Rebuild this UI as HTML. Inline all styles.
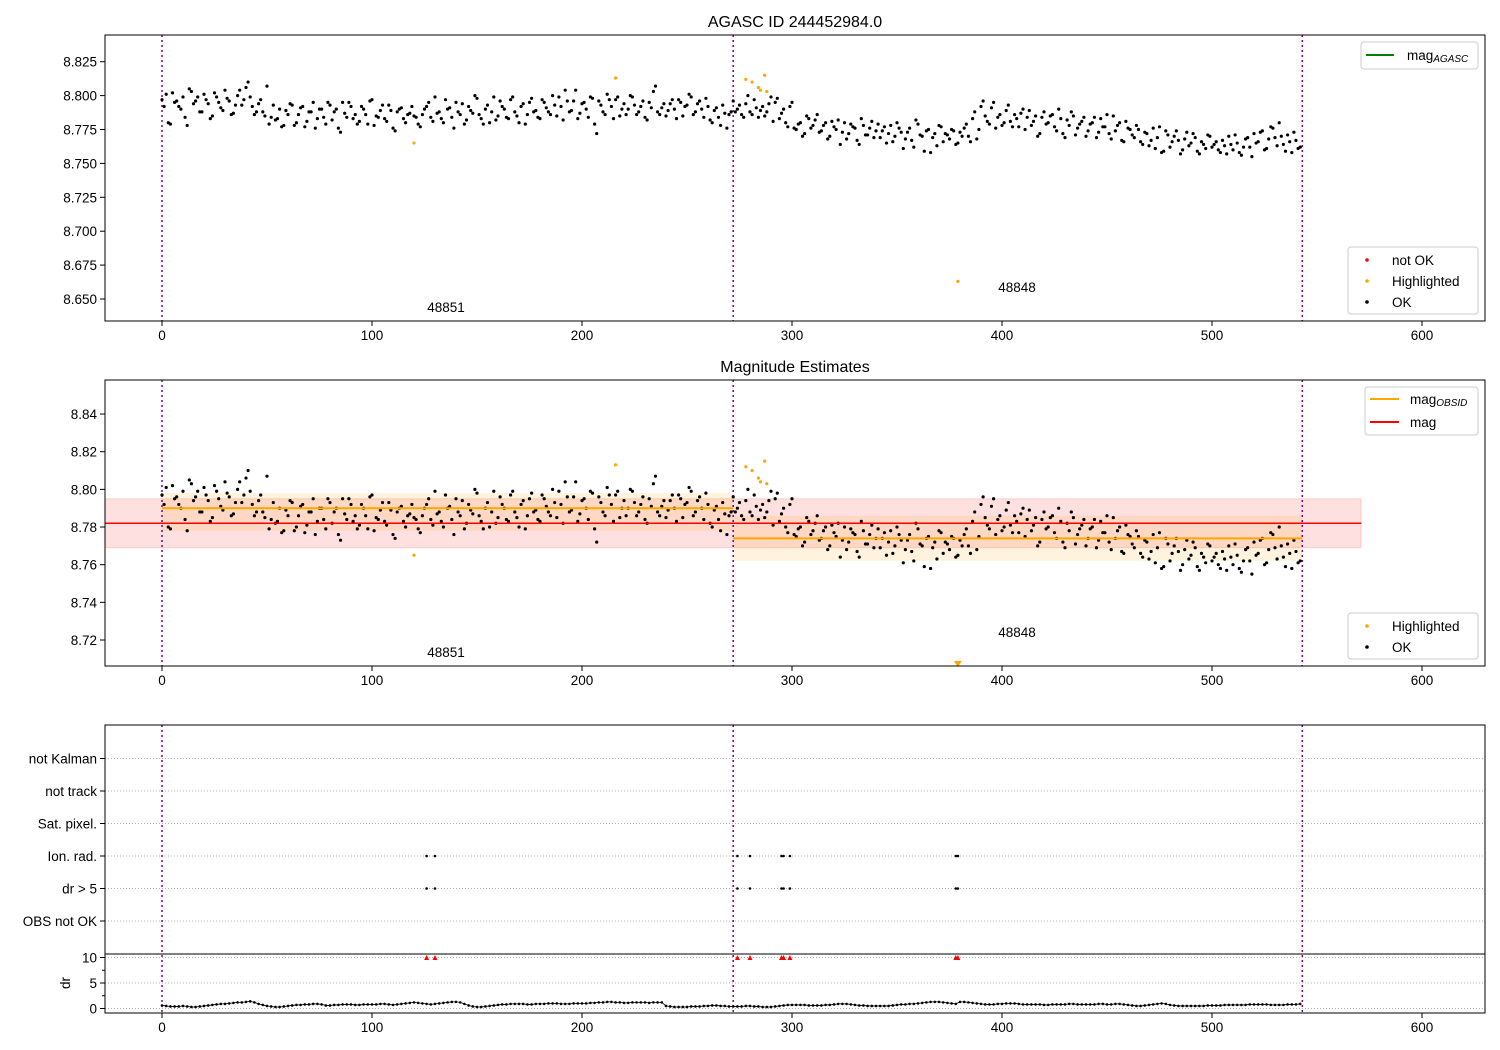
<!DOCTYPE html>
<html><head><meta charset="utf-8"><style>
body{margin:0;background:#fff;}
svg{display:block;font-family:"Liberation Sans","DejaVu Sans",sans-serif;}
</style></head><body>
<svg id="chart" width="1500" height="1050" viewBox="0 0 1500 1050" xmlns="http://www.w3.org/2000/svg"></svg>
<script>
// ---------- data ----------
const magStride = 2;
const magSeg1 = [97,101,79,95,92,99,78,103,96,88,101,94,85,99,91,104,96,87,100,93,106,
99,86,94,88,107,84,82,90,78,86,93,80,91,77,88,95,83,90,79,93,
88,76,95,84,92,86,81,90,79,97,85,89,83,93,76,88,91,80,87,85,
79,86,92,84,99,88,80,90,84,95,86,79,92,87,98,83,90,80,99,85,
92,84,97,88,80,94,86,98,89,83,95,88,100,85,92,104,88,96,83,94,
90,99,79,96,88,101,92,97,85,94,90,99,86,92,84,95,103,88,91,85,
94,90,97,85,93,99,88,96,84,92,80,91,78,87,86];
const magSeg2 = [96,90,86,94,88,97,84,92,88,99,95,83,90,77,95,
75,80,72,83,78,86,74,80,70,77,82,73,68,79,76,64,78,71,81,74,
69,77,72,66,80,73,68,76,62,79,70,74,58,72,78,66,71,75,64,73,
76,70,83,68,92,85,79,95,84,78,89,81,86,77,90,84,78,85,72,88,
80,86,74,83,69,78,85,76,81,70,79,84,73,77,86,68,74,80,66,76,
71,78,66,73,63,76,69,58,74,62,70,67,60,73,65,69,57,64,71,62,
66,58,63,70,60,65,56,68,62,72,66,74,61,77,69,80,64,71,58,67,62];
// odd-index observations (x = 1,3,5,...)
const magOdd1 = [92,80,102,96,90,84,105,94,99,88,97,83,102,95,89,98,86,93,104,97,
110,92,88,97,85,79,93,83,77,89,94,78,86,92,81,88,76,90,84,95,
82,90,73,87,95,83,79,92,86,96,78,84,93,81,89,74,90,83,86,92,
84,77,90,95,81,87,83,97,91,76,88,94,82,89,100,86,79,93,88,82,
96,90,83,99,85,92,79,95,88,84,97,91,86,93,99,82,96,89,104,87,
95,84,98,72,93,86,97,83,99,90,86,100,93,88,96,82,91,107,86,94,
89,97,83,95,92,101,86,94,90,98,82,89,84,93,76,88];
const magOdd2 = [88,93,84,100,86,91,89,85,94,81,98,87,80,92,76,
79,70,85,76,82,73,78,68,81,75,64,80,72,77,67,83,71,76,69,79,
74,65,78,70,76,61,73,67,82,71,59,75,69,63,77,72,68,74,65,70,
79,66,88,75,96,81,91,76,86,80,93,77,83,87,75,89,81,70,84,79,
85,77,90,72,82,88,71,79,84,74,80,69,83,77,72,85,78,67,81,75,
69,75,64,72,67,61,77,59,71,66,74,57,68,63,72,59,66,61,70,64,
60,67,57,64,71,58,62,69,55,65,73,60,68,76,63,70,59,66,73,61];
const hlX = [120,216,278,281,284,285,287,288];
const hlY = [8.765,8.813,8.812,8.810,8.806,8.804,8.815,8.803];
const outX = [379];
const outY = [8.663];
const drVals = [6,5,4,4,4,5,4,3,3,4, 5,6,7,8,9,9,10,11,12,12, 13,14,12,9,7,5,4,3,3,4, 5,6,7,7,8,8,9,9,8,6,
6,7,7,8,8,8,7,7,8,8, 8,8,9,9,8,7,8,9,10,11, 12,11,10,9,8,9,10,11,12,13, 13,12,9,6,4,3,3,4,5,6,
7,8,8,9,9,9,9,8,8,9, 9,9,10,10,10,9,9,9,10,10, 10,10,11,11,12,12,13,13,12,12, 11,11,12,12,12,12,11,12,12,12,
5,4,3,3,3,3,4,4,4,5, 5,6,6,5,5,4,4,4,4,5, 5,4,4,3,3,3,4,5,6,7, 7,7,7,7,6,6,6,6,7,7,
8,9,9,9,8,7,6,6,5,5, 5,5,5,5,6,7,8,8,9,9, 10,11,12,13,13,13,12,11,10,9, 13,13,12,11,10,9,8,8,8,9,
9,10,10,10,9,8,8,8,8,8, 7,7,8,8,8,8,9,9,8,8, 8,8,8,9,9,8,8,9,9,8, 7,6,5,5,6,7,8,9,10,9,
7,6,5,5,5,5,5,5,5,6, 6,6,6,7,7,7,7,7,7,8, 8,8,8,8,7,7,7,7,8,8, 8,9];
const flagX = [126,130,274,280,295,296,299,378,379];
const obsBounds = [0,272,543];
const obsMean = [8.790,8.774];
const obsLow = [8.778,8.762];
const obsHigh = [8.798,8.786];
const magMean = 8.782, magLow = 8.769, magHigh = 8.795, magEnd = 571;
const xTicks = [0,100,200,300,400,500,600];
const y1Ticks = [8.650,8.675,8.700,8.725,8.750,8.775,8.800,8.825];
const y2Ticks = [8.72,8.74,8.76,8.78,8.80,8.82,8.84];
const flagLabels = ["OBS not OK","dr > 5","Ion. rad.","Sat. pixel.","not track","not Kalman"];
const drTicks = [0,5,10];

// ---------- helpers ----------
const NS="http://www.w3.org/2000/svg";
const svg=document.getElementById('chart');
function el(tag,attrs,parent){const e=document.createElementNS(NS,tag);for(const k in attrs)e.setAttribute(k,attrs[k]);(parent||svg).appendChild(e);return e;}
function txt(s,attrs,parent){const e=el('text',attrs,parent);e.textContent=s;return e;}
const X0=105,X1=1485;
const sx=v=>162+v*2.1;
const sy1=v=>299-(v-8.650)*1356;
const sy2=v=>640-(v-8.72)*1883;
const sdr=v=>1008.5-v*5.1;
const magX=[],magY=[];
magSeg1.concat(magSeg2).forEach((v,i)=>{magX.push(i*magStride);magY.push(8.7+v/1000);});
magOdd1.concat(magOdd2).forEach((v,i)=>{magX.push(1+i*magStride);magY.push(8.7+v/1000);});

function frame(y0,y1,name){
  const r=el('rect',{x:X0,y:y0,width:X1-X0,height:y1-y0,fill:'none',stroke:'#000','stroke-width':1});
  
  
}
function xAxis(yb,name){
  const g=el('g',{});
  
  
  xTicks.forEach(t=>{el('line',{x1:sx(t),x2:sx(t),y1:yb,y2:yb+5,stroke:'#000'},g);
    txt(String(t),{x:sx(t),y:yb+19,'text-anchor':'middle','font-size':13.5},g);});
}
function yAxis(ticks,sy,fmt,name){
  const g=el('g',{});
  
  
  ticks.forEach(t=>{el('line',{x1:X0-5,x2:X0,y1:sy(t),y2:sy(t),stroke:'#000'},g);
    txt(t.toFixed(fmt),{x:X0-8,y:sy(t)+5,'text-anchor':'end','font-size':13.5},g);});
}
function vlines(y0,y1){
  obsBounds.forEach(b=>{const l=el('line',{x1:sx(b),x2:sx(b),y1:y0,y2:y1,stroke:'#800080','stroke-width':1.5,'stroke-dasharray':'2,3'});
  
  });
}
function dots(xs,ys,sy,color,name,r){
  const g=el('g',{});
  
  
  xs.forEach((x,i)=>{el('circle',{cx:sx(x),cy:sy(ys[i]),r:r||1.6,fill:color},g);});
}
function subLabel(parent,x,y,main,sub){
  const t=el('text',{x:x,y:y,'font-size':13.5},parent);
  t.appendChild(document.createTextNode(main));
  const ts=el('tspan',{dy:2,'font-size':10,'font-style':'italic'},t);
  ts.textContent=sub;
  return t;
}

// ---------- panel 1 ----------
const t1=txt('AGASC ID 244452984.0',{x:795,y:27,'text-anchor':'middle','font-size':16});


vlines(35,321);
dots(magX,magY,sy1,'#000','ok-points-top');
dots(hlX,hlY,sy1,'orange','highlighted-points-top');
dots(outX,outY,sy1,'orange','outlier-point-top');
txt('48851',{x:446,y:312,'text-anchor':'middle','font-size':13.5});
txt('48848',{x:1017,y:292,'text-anchor':'middle','font-size':13.5});
frame(35,321,'top-plot-area');
xAxis(321,'top-x-axis');
yAxis(y1Ticks,sy1,3,'top-y-axis');
let lg=el('g',{});


el('rect',{x:1361,y:42,width:117,height:27,rx:3,fill:'#fff',stroke:'#ccc'},lg);
el('line',{x1:1366,x2:1394,y1:55,y2:55,stroke:'green','stroke-width':2},lg);
subLabel(lg,1407,60,'mag','AGASC');
lg=el('g',{});


el('rect',{x:1348,y:247,width:130,height:67,rx:3,fill:'#fff',stroke:'#ccc'},lg);
[['not OK','red',260],['Highlighted','orange',281],['OK','#000',302]].forEach(a=>{
  el('circle',{cx:1367,cy:a[2],r:1.8,fill:a[1]},lg);txt(a[0],{x:1392,y:a[2]+5,'font-size':13.5},lg);});

// ---------- panel 2 ----------
const t2=txt('Magnitude Estimates',{x:795,y:372,'text-anchor':'middle','font-size':16});


let band=el('rect',{x:X0,y:sy2(magHigh),width:sx(magEnd)-X0,height:sy2(magLow)-sy2(magHigh),fill:'red','fill-opacity':0.12,stroke:'red','stroke-opacity':0.15});


obsMean.forEach((m,i)=>{
  const b=el('rect',{x:sx(obsBounds[i]),y:sy2(obsHigh[i]),width:sx(obsBounds[i+1])-sx(obsBounds[i]),height:sy2(obsLow[i])-sy2(obsHigh[i]),fill:'orange','fill-opacity':0.13});
  
  
});
vlines(380,666);
dots(magX,magY,sy2,'#000','ok-points-middle');
dots(hlX,hlY,sy2,'orange','highlighted-points-middle');
outX.forEach(x=>{const p=el('path',{d:`M${sx(x)-4},661 L${sx(x)+4},661 L${sx(x)},667 Z`,fill:'orange'});
  
  });
let ml=el('line',{x1:X0,x2:sx(magEnd),y1:sy2(magMean),y2:sy2(magMean),stroke:'red','stroke-width':1.5});


obsMean.forEach((m,i)=>{const l=el('line',{x1:sx(obsBounds[i]),x2:sx(obsBounds[i+1]),y1:sy2(m),y2:sy2(m),stroke:'orange','stroke-width':2});
  
  });
txt('48851',{x:446,y:657,'text-anchor':'middle','font-size':13.5});
txt('48848',{x:1017,y:637,'text-anchor':'middle','font-size':13.5});
frame(380,666,'middle-plot-area');
xAxis(666,'middle-x-axis');
yAxis(y2Ticks,sy2,2,'middle-y-axis');
lg=el('g',{});


el('rect',{x:1365,y:387,width:113,height:48,rx:3,fill:'#fff',stroke:'#ccc'},lg);
el('line',{x1:1370,x2:1399,y1:399,y2:399,stroke:'orange','stroke-width':2},lg);
subLabel(lg,1410,404,'mag','OBSID');
el('line',{x1:1370,x2:1399,y1:422,y2:422,stroke:'red','stroke-width':2},lg);
txt('mag',{x:1410,y:427,'font-size':13.5},lg);
lg=el('g',{});


el('rect',{x:1348,y:613,width:130,height:46,rx:3,fill:'#fff',stroke:'#ccc'},lg);
[['Highlighted','orange',626],['OK','#000',647]].forEach(a=>{
  el('circle',{cx:1367,cy:a[2],r:1.8,fill:a[1]},lg);txt(a[0],{x:1392,y:a[2]+5,'font-size':13.5},lg);});

// ---------- panel 3 flags ----------
const flagY=i=>921-i*32.5;
const fg=el('g',{});


flagLabels.forEach((l,i)=>{
  el('line',{x1:X0,x2:X1,y1:flagY(i),y2:flagY(i),stroke:'#b0b0b0','stroke-dasharray':'1,2'},fg);
  el('line',{x1:X0-5,x2:X0,y1:flagY(i),y2:flagY(i),stroke:'#000'},fg);
  txt(l,{x:X0-8,y:flagY(i)+5,'text-anchor':'end','font-size':13.5},fg);
});
[1,2].forEach(row=>{const g=el('g',{});
  
  
  flagX.forEach(x=>el('circle',{cx:sx(x),cy:flagY(row),r:1.3,fill:'#000'},g));});
[10,5,0].forEach(v=>el('line',{x1:X0,x2:X1,y1:sdr(v),y2:sdr(v),stroke:'#b0b0b0','stroke-dasharray':'1,2'}));
vlines(725,1013);
frame(725,954,'flags-plot-area');
frame(954,1013,'dr-plot-area');
const drg=el('g',{});


let dpath='';
drVals.forEach((v,i)=>{dpath+=(i?'L':'M')+sx(i*magStride)+','+sdr(v/10);
  el('circle',{cx:sx(i*magStride),cy:sdr(v/10),r:1.3,fill:'#000'},drg);});
el('path',{d:dpath,fill:'none',stroke:'#000','stroke-width':0.8},drg);
const tg=el('g',{});


flagX.forEach(x=>el('path',{d:`M${sx(x)-2.5},${sdr(10)+2.5} L${sx(x)+2.5},${sdr(10)+2.5} L${sx(x)},${sdr(10)-2.5} Z`,fill:'red'},tg));
xAxis(1013,'bottom-x-axis');
yAxis(drTicks,sdr,0,'dr-y-axis');
[2.5,7.5].forEach(v=>el('line',{x1:X0-3,x2:X0,y1:sdr(v),y2:sdr(v),stroke:'#000'}));
const dl=txt('dr',{x:70,y:983,'text-anchor':'middle','font-size':13.5,transform:'rotate(-90 70 983)'});


</script>
</body></html>
